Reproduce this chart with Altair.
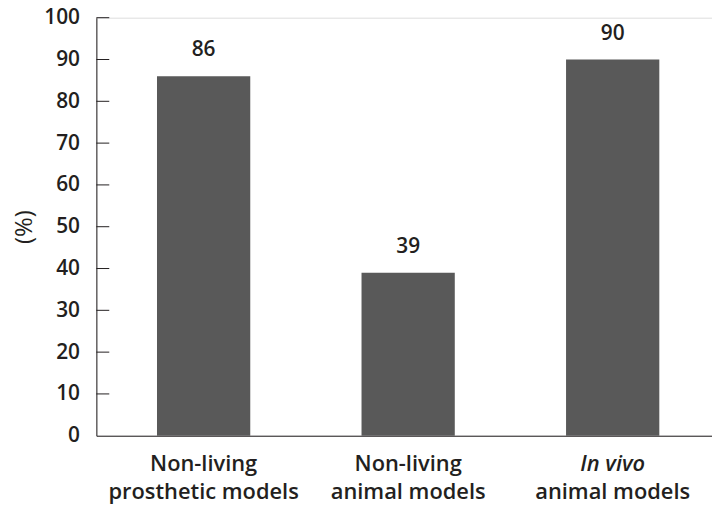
import altair as alt
import pandas as pd

categories = ["Non-living prosthetic models", "Non-living animal models", "In vivo animal models"]
values = [86, 39, 90]
line1 = ["Non-living", "Non-living", "In vivo"]
line2 = ["prosthetic models", "animal models", "animal models"]
line1_italic = [False, False, True]
y_ticks = [10, 20, 30, 40, 50, 60, 70, 80, 90, 100]

W, H = 620, 421
INK = "#231f20"
BAR = "#595959"
FONT = "Open Sans"

df = pd.DataFrame({"cat": categories, "value": values, "l1": line1,
                   "l2": line2, "it": line1_italic})
ticks_df = pd.DataFrame({"value": y_ticks})

x_enc = alt.X("cat:N", sort=categories,
              scale=alt.Scale(paddingInner=0.544, paddingOuter=0.277, align=0.535),
              axis=alt.Axis(title=None, labels=False, ticks=False, domainColor=INK,
                            domainWidth=1))
y_enc = alt.Y("value:Q", scale=alt.Scale(domain=[0, 100], nice=False),
              axis=alt.Axis(title="(%)", values=list(range(0, 101, 10)), ticks=False,
                            grid=False, labelPadding=17, labelFontSize=21,
                            labelFont=FONT, labelFontWeight=600, labelColor=INK,
                            labelFlush=False,
                            titleFont=FONT, titleFontSize=24, titleFontWeight=500,
                            titleColor=INK, titlePadding=7,
                            domainColor=INK, domainWidth=1))

base = alt.Chart(df)

bars = base.mark_bar(color=BAR).encode(x=x_enc, y=y_enc)

vals = base.mark_text(baseline="alphabetic", dy=-20, font=FONT, fontSize=21,
                      fontWeight=600, color=INK).encode(
    x=alt.X("cat:N", sort=categories), y=alt.Y("value:Q"), text="value:Q")

tick_rules = alt.Chart(ticks_df).mark_rule(color=INK, strokeWidth=1).encode(
    x=alt.value(0), x2=alt.value(13), y=alt.Y("value:Q"))

lab1 = base.transform_filter("!datum.it").mark_text(
    baseline="alphabetic", font=FONT, fontSize=22, fontWeight=600, color=INK).encode(
    x=alt.X("cat:N", sort=categories), y=alt.value(H + 36), text="l1:N")

lab1i = base.transform_filter("datum.it").mark_text(
    baseline="alphabetic", font=FONT, fontSize=22, fontWeight=600, fontStyle="italic",
    color=INK).encode(
    x=alt.X("cat:N", sort=categories), y=alt.value(H + 36), text="l1:N")

lab2 = base.mark_text(
    baseline="alphabetic", font=FONT, fontSize=22, fontWeight=600, color=INK).encode(
    x=alt.X("cat:N", sort=categories), y=alt.value(H + 64), text="l2:N")

chart = alt.layer(bars, vals, tick_rules, lab1, lab1i, lab2).properties(
    width=W, height=H,
    autosize=alt.AutoSizeParams(type="none"),
    padding={"left": 89, "top": 8, "right": 0, "bottom": 70},
).configure_view(stroke=None).configure(background="white")

chart.save("out.html", embed_options={"renderer": "svg", "actions": False})
